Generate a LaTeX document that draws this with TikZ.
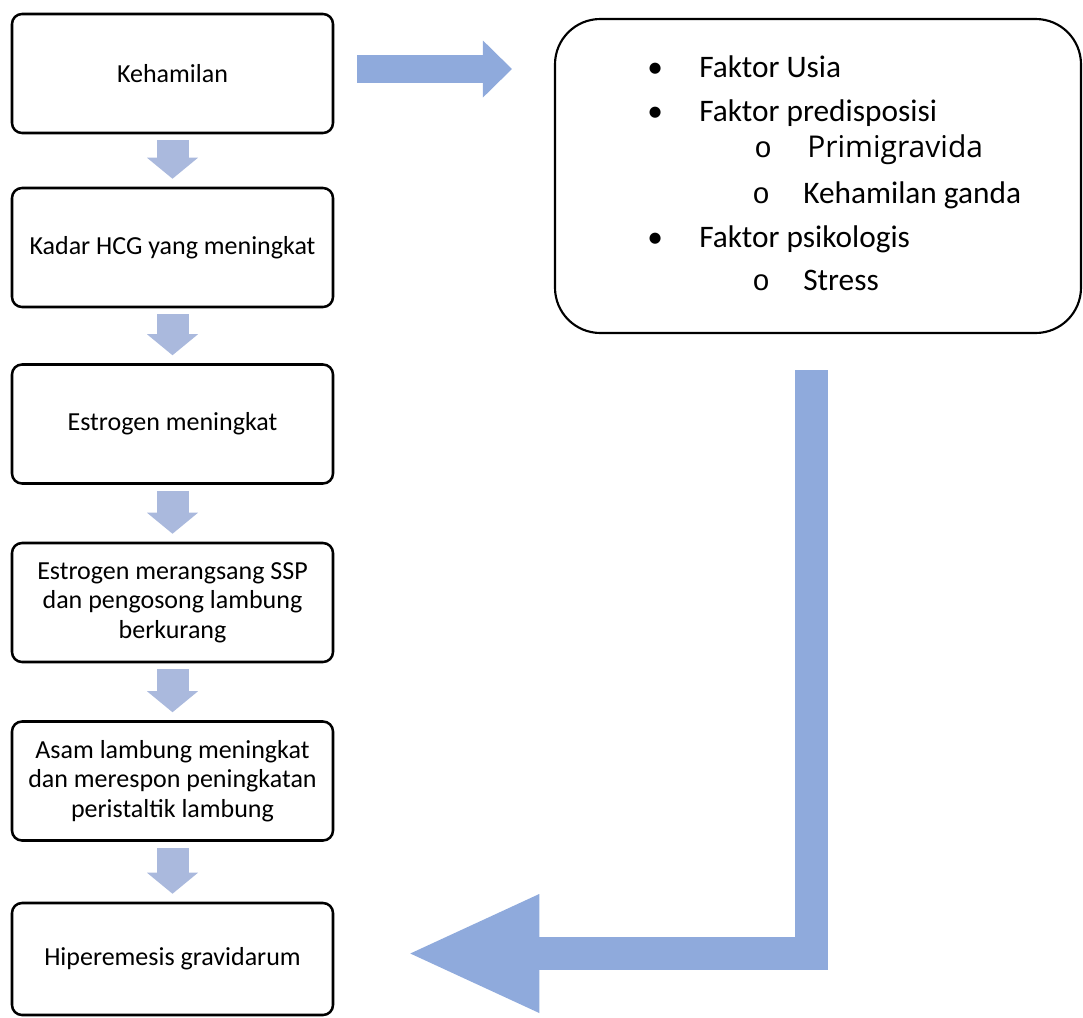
\documentclass[tikz,border=0pt]{standalone}
\usepackage{fontspec}
\setmainfont{Carlito}
\newfontfamily\primfont{Open Sans}
\newfontfamily\circfont{Liberation Mono}
\usetikzlibrary{arrows.meta,calc}

\definecolor{flowblue}{HTML}{8FAADC}
\definecolor{stepblue}{HTML}{AAB9DD}

\tikzset{
  stepbox/.style={draw=black, line width=1.9pt, rounded corners=7.5pt, minimum width=240.75pt, minimum height=89.25pt, inner sep=0pt, align=center, font=\fontsize{19.5}{22}\selectfont},
  factorbox/.style={draw=black, line width=1.6pt, rounded corners=34pt, minimum width=394.5pt, minimum height=235.5pt},
  factortext/.style={anchor=base west, inner sep=0pt, font=\fontsize{23.5}{28}\selectfont},
  circmark/.style={factortext, font=\circfont\fontsize{22}{26}\selectfont},
  downflow/.style={draw=stepblue, line width=24pt, -{Triangle[length=15.75pt,width=38.25pt,line width=0pt]}, shorten <=4.5pt, shorten >=6pt},
  sideflow/.style={draw=flowblue, line width=21pt, -{Triangle[length=21.75pt,width=42.75pt,line width=0pt]}, shorten >=31.5pt},
  bigflow/.style={draw=flowblue, line width=24.75pt, line join=miter, -{Triangle[length=96.75pt,width=89.25pt,line width=0pt]}}
}

\begin{document}
\begin{tikzpicture}[x=0.75pt,y=0.75pt,yscale=-1,xscale=1]
\useasboundingbox (0,0) rectangle (1083,1018);

% Text Node
\node[stepbox] (k1) at (172.5,73.5) {Kehamilan};
% Text Node
\node[stepbox] (k2) at (172.5,247.5) {Kadar HCG yang meningkat};
% Text Node
\node[stepbox] (k3) at (172.5,424) {Estrogen meningkat};
% Text Node
\node[stepbox] (k4) at (172.5,602.5) {Estrogen merangsang SSP\\dan pengosong lambung\\berkurang};
% Text Node
\node[stepbox] (k5) at (172.5,781) {Asam lambung meningkat\\dan merespon peningkatan\\peristaltik lambung};
% Text Node
\node[stepbox, minimum height=84pt] (k6) at (172.5,959) {Hiperemesis gravidarum};

% Text Node
\node[factorbox] (rb) at (818,176) {};
% Text Node
\node[factortext] (b1) at (647,77) {•};
\node[factortext] (f1) at (699,77) {Faktor Usia};
% Text Node
\node[factortext] (b2) at (647,121) {•};
\node[factortext] (f2) at (699,121) {Faktor predisposisi};
% Text Node
\node[circmark] (c1) at (754,157) {o};
\node[factortext, font=\primfont\fontsize{22.5}{27}\selectfont] (f2a) at (807,157) {Primigravida};
% Text Node
\node[circmark] (c2) at (752,203) {o};
\node[factortext] (f2b) at (803,203) {Kehamilan ganda};
% Text Node
\node[factortext] (b3) at (647,247) {•};
\node[factortext] (f3) at (699,247) {Faktor psikologis};
% Text Node
\node[circmark] (c3) at (752,290) {o};
\node[factortext] (f3a) at (803,290) {Stress};

% Connection
\draw[downflow] (k1.south) -- (k2.north);
% Connection
\draw[downflow] (k2.south) -- (k3.north);
% Connection
\draw[downflow] (k3.south) -- (k4.north);
% Connection
\draw[downflow] (k4.south) -- (k5.north);
% Connection
\draw[downflow] (k5.south) -- (k6.north);

% Connection
\coordinate (rstart) at ($(k1.east)+(23,-4.5)$);
\draw[sideflow] (rstart) -- (rstart -| rb.west);

% Connection
\coordinate (lstart) at ($(rb.south)+(-6.5,36)$);
\coordinate (ltip) at ($(k6.east)+(76,-5.5)$);
\draw[bigflow] (lstart) |- (ltip);

\end{tikzpicture}
\end{document}
